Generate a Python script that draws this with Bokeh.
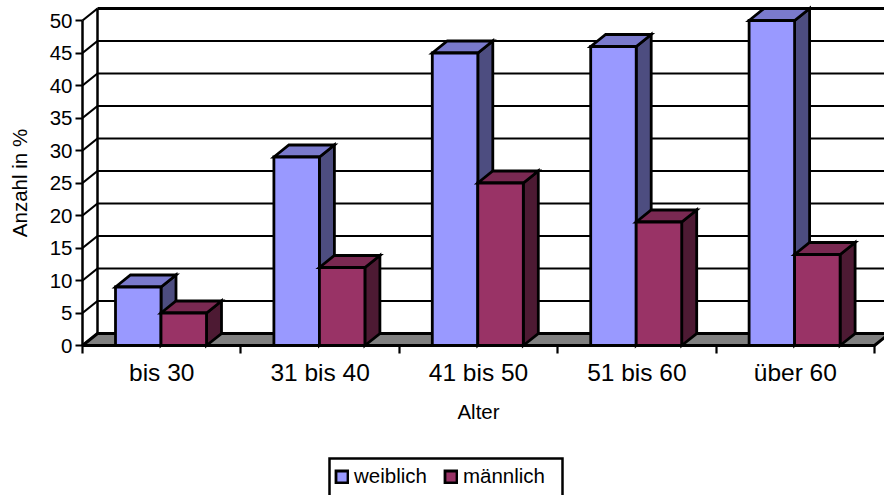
import math

from bokeh.embed import file_html
from bokeh.models import FixedTicker, Label, Legend, LegendItem, LinearAxis, Range1d
from bokeh.plotting import figure
from bokeh.resources import INLINE

# Survey shares by age group
categories = ["bis 30", "31 bis 40", "41 bis 50", "51 bis 60", "über 60"]
weiblich = [9, 29, 45, 46, 50]
maennlich = [5, 12, 25, 19, 14]
y_ticks = [0, 5, 10, 15, 20, 25, 30, 35, 40, 45, 50]

FONT = "Liberation Sans"
W, H = 884, 495
ORIGIN_X, ORIGIN_Y = 82, 345   # where the axes cross, in canvas pixels
PX_PER_CAT = 158.4
PX_PER_UNIT = 6.5

# The frame fills the canvas; the axes sit at fixed locations inside it
p = figure(
    width=W, height=H, output_backend="svg", toolbar_location=None,
    x_range=Range1d(-ORIGIN_X / PX_PER_CAT, (W - ORIGIN_X) / PX_PER_CAT),
    y_range=Range1d(-(H - ORIGIN_Y) / PX_PER_UNIT, ORIGIN_Y / PX_PER_UNIT),
    min_border=0, x_axis_type=None, y_axis_type=None,
)
p.outline_line_color = None
p.grid.visible = False
p.background_fill_color = "white"

# Oblique depth of the pseudo-3D box, in data units
DX = 15 / PX_PER_CAT
DY = 12 / PX_PER_UNIT
XMAX = (W - ORIGIN_X) / PX_PER_CAT + 1
N = len(categories)

# Floor
p.patch([0, DX, N + DX, N], [0, DY, DY, 0], fill_color="#808080", line_color="black", line_width=3)

# Back wall: horizontal rules and the wedges joining them to the value axis
p.segment(x0=[DX] * len(y_ticks), y0=[t + DY for t in y_ticks],
          x1=[XMAX] * len(y_ticks), y1=[t + DY for t in y_ticks],
          line_color="black",
          line_width=[3 if t in (0, 50) else 2.2 for t in y_ticks])
p.segment(x0=[0] * len(y_ticks), y0=y_ticks,
          x1=[DX] * len(y_ticks), y1=[t + DY for t in y_ticks],
          line_color="black", line_width=2.2)
p.segment(x0=[DX], y0=[DY], x1=[DX], y1=[50 + DY], line_color="black", line_width=2.5)

BAR_W = 45.5 / PX_PER_CAT
NUDGE = -0.7 / PX_PER_CAT


def draw_series(values, offset, front, top, side):
    """Draw one series as oblique boxes: side and top faces, then the front face."""
    lefts = [i + 0.5 + offset + NUDGE for i in range(N)]
    rights = [x + BAR_W for x in lefts]
    style = dict(line_color="black", line_width=2.8, line_join="miter")
    p.patches(
        [[r, r + DX, r + DX, r] for r in rights],
        [[0, DY, v + DY, v] for v in values],
        fill_color=side, **style)
    p.patches(
        [[l, l + DX, r + DX, r] for l, r in zip(lefts, rights)],
        [[v, v + DY, v + DY, v] for v in values],
        fill_color=top, **style)
    return p.quad(left=lefts, right=rights, bottom=[0] * N, top=values, fill_color=front, **style)


# Each series is painted in turn so the later boxes overlap the earlier ones
female = draw_series(weiblich, -BAR_W, "#9999FF", "#7A7ACC", "#4D4D80")
male = draw_series(maennlich, 0, "#993366", "#7A2952", "#4D1A33")

# Axes
y_axis = LinearAxis(
    ticker=FixedTicker(ticks=y_ticks), bounds=(0, 50), fixed_location=0,
    major_label_text_font=FONT, major_label_text_font_size="20.5px", major_label_text_color="black",
    major_label_standoff=3,
    axis_line_color="black", axis_line_width=2.5,
    major_tick_line_color="black", major_tick_line_width=2.2, major_tick_in=0, major_tick_out=7,
    minor_tick_line_color=None,
)
p.add_layout(y_axis, "left")

centres = [i + 0.5 for i in range(N)]
x_axis = LinearAxis(
    ticker=FixedTicker(ticks=centres, minor_ticks=list(range(N + 1))), bounds=(0, N), fixed_location=0,
    major_label_overrides=dict(zip(centres, categories)),
    major_label_text_font=FONT, major_label_text_font_size="24.5px", major_label_text_color="black",
    major_label_standoff=5,
    axis_line_color="black", axis_line_width=3,
    major_tick_line_color=None, major_tick_in=0, major_tick_out=0,
    minor_tick_line_color="black", minor_tick_line_width=2.2, minor_tick_in=0, minor_tick_out=8,
)
p.add_layout(x_axis, "below")

# Axis titles
title_style = dict(text_font=FONT, text_font_size="20.5px", text_color="black",
                   text_align="center", text_baseline="middle")
p.add_layout(Label(x=2.5, y=-66 / PX_PER_UNIT, text="Alter", **title_style))
p.add_layout(Label(x=-63 / PX_PER_CAT, y=25, text="Anzahl in %", angle=math.pi / 2, **title_style))

# Legend box, running off the lower edge of the canvas
p.quad(left=[(329 - ORIGIN_X) / PX_PER_CAT], right=[(562 - ORIGIN_X) / PX_PER_CAT],
       top=[(ORIGIN_Y - 458) / PX_PER_UNIT], bottom=[(ORIGIN_Y - 510) / PX_PER_UNIT],
       fill_color="white", line_color="black", line_width=2.5, line_join="miter")

legend = Legend(
    items=[LegendItem(label="weiblich", renderers=[female]),
           LegendItem(label="männlich", renderers=[male])],
    orientation="horizontal", location=(334, 7), margin=0, padding=3, spacing=16,
    glyph_width=15, glyph_height=15, label_standoff=5, label_height=24,
    label_text_font=FONT, label_text_font_size="20.5px", label_text_color="black",
    border_line_color=None, background_fill_alpha=0,
)
p.add_layout(legend, "center")

open("out.html", "w").write(file_html(p, INLINE))
